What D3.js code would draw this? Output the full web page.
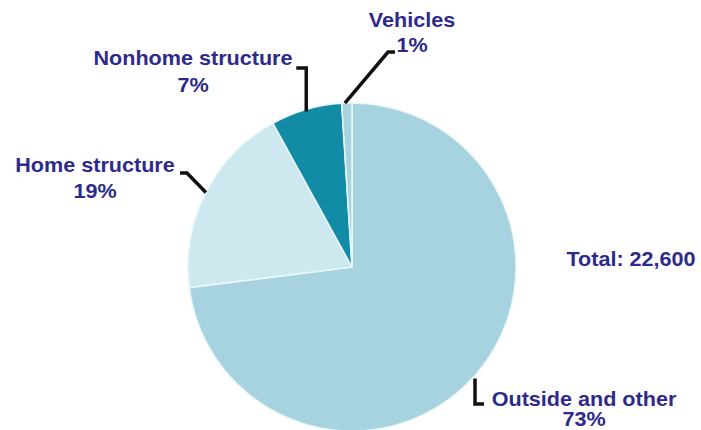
<!DOCTYPE html>
<html>
<head>
<meta charset="utf-8">
<script src="https://cdn.jsdelivr.net/npm/d3@7"></script>
<style>
  body { margin: 0; background: #fff; }
  text { font-family: "Liberation Sans", Arial, sans-serif; font-weight: bold; fill: #2e2a8c; }
</style>
</head>
<body>
<div id="chart"></div>
<script>
// data
var categories = ["Outside and other", "Home structure", "Nonhome structure", "Vehicles"];
var shares = [73, 19, 7, 1];
var colors = ["#a6d3df", "#cde9ef", "#128ba7", "#a6d3df"];
var totalLabel = "Total: 22,600";

var w = 701, h = 430;
var cx = 352, cy = 267, r = 164;

var svg = d3.select("#chart").append("svg")
    .attr("width", w)
    .attr("height", h);

var pie = d3.pie().sort(null).value(function(d) { return d; });
var arc = d3.arc().innerRadius(0).outerRadius(r);

var g = svg.append("g").attr("transform", "translate(" + cx + "," + cy + ")");

var slices = pie(shares);

g.selectAll("path")
    .data(slices)
    .enter()
    .append("path")
    .attr("d", arc)
    .attr("fill", function(d, i) { return colors[i]; })
    .attr("stroke", "#eaf6f9")
    .attr("stroke-width", 1.5);

// leader lines, starting on the slice edge
function edge(i, frac) {
    var s = slices[i];
    var a = s.startAngle + (s.endAngle - s.startAngle) * frac;
    return [cx + r * Math.sin(a), cy - r * Math.cos(a)];
}

var leaders = [
    function() { var p = edge(0, 0.5); return [[p[0], p[1] + 3], [p[0], 404], [p[0] + 9, 404]]; },
    function() { var p = edge(1, 0.5); return [[p[0], p[1]], [187, 173], [180, 173]]; },
    function() { var p = edge(2, 0.5); return [[p[0], p[1] + 2], [p[0], 68], [p[0] - 10, 68]]; },
    function() { var p = edge(3, 0.5); return [[p[0] - 2, p[1]], [388, 52], [395, 52]]; }
];

svg.selectAll("path.leader")
    .data(leaders)
    .enter()
    .append("path")
    .attr("class", "leader")
    .attr("d", function(f) { return d3.line()(f()); })
    .attr("fill", "none")
    .attr("stroke", "#111")
    .attr("stroke-width", 3.5);

// labels: [x, first baseline, second baseline]
var labelPos = [[584, 406, 426], [95, 172, 198], [193, 65, 92], [412, 27, 52]];
var fs = 20, sx = 1.08;

var labels = svg.selectAll("text.lab")
    .data(categories)
    .enter()
    .append("text")
    .attr("class", "lab")
    .attr("text-anchor", "middle")
    .attr("transform", function(d, i) {
        return "translate(" + labelPos[i][0] + ",0) scale(" + sx + ",1)";
    })
    .style("font-size", fs + "px");

labels.append("tspan")
    .attr("x", 0)
    .attr("y", function(d, i) { return labelPos[i][1]; })
    .text(function(d) { return d; });

labels.append("tspan")
    .attr("x", 0)
    .attr("y", function(d, i) { return labelPos[i][2]; })
    .text(function(d, i) { return shares[i] + "%"; });

svg.append("text")
    .attr("text-anchor", "middle")
    .attr("transform", "translate(631,266) scale(" + sx + ",1)")
    .style("font-size", fs + "px")
    .text(totalLabel);
</script>
</body>
</html>
